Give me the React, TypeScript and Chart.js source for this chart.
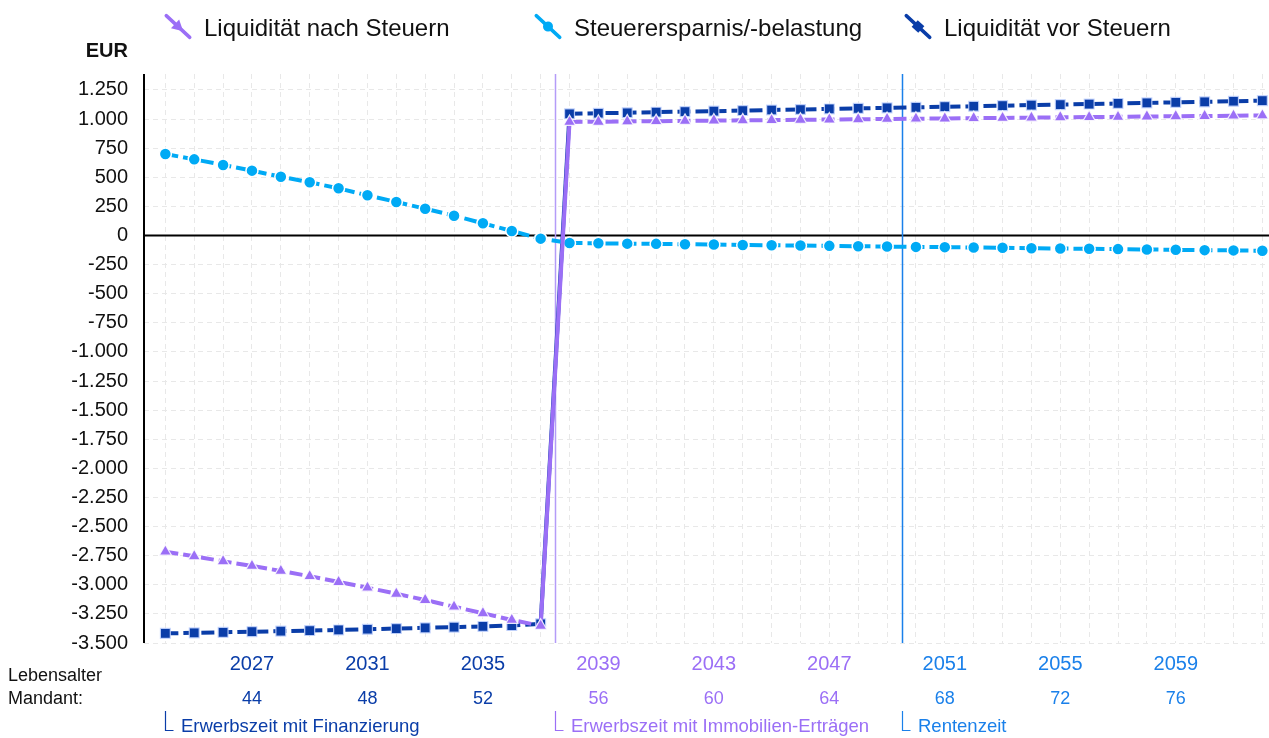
import { useEffect, useRef } from 'react';
import { Chart, registerables } from 'chart.js';

Chart.register(...registerables);

// ---------- data ----------
const years = [
  2024, 2025, 2026, 2027, 2028, 2029, 2030, 2031, 2032, 2033, 2034, 2035, 2036,
  2037, 2038, 2039, 2040, 2041, 2042, 2043, 2044, 2045, 2046, 2047, 2048, 2049,
  2050, 2051, 2052, 2053, 2054, 2055, 2056, 2057, 2058, 2059, 2060, 2061, 2062,
];

const liqNachSteuern = [
  -2716, -2755, -2798, -2838, -2881, -2926, -2976, -3025, -3077, -3131, -3188, -3245, -3302,
  -3352, 975, 977, 980, 982, 984, 987, 989, 991, 994, 996, 998, 1001,
  1003, 1005, 1008, 1010, 1012, 1015, 1017, 1019, 1022, 1024, 1026, 1029, 1031,
];

const steuerErsparnis = [
  700, 654, 606, 557, 505, 457, 405, 345, 288, 230, 170, 105, 39,
  -27, -64, -67, -70, -72, -75, -78, -81, -84, -86, -89, -92, -95,
  -98, -100, -103, -106, -109, -112, -114, -117, -120, -123, -126, -128, -131,
];

const liqVorSteuern = [
  -3417, -3413, -3408, -3403, -3398, -3393, -3388, -3382, -3376, -3370, -3364, -3358, -3350,
  -3335, 1045, 1050, 1054, 1059, 1064, 1068, 1073, 1078, 1082, 1087, 1092, 1096,
  1101, 1106, 1110, 1115, 1120, 1124, 1129, 1134, 1139, 1143, 1148, 1153, 1158,
];

const seriesNames = ['Liquidität nach Steuern', 'Steuerersparnis/-belastung', 'Liquidität vor Steuern'];

const yTickValues = [
  -3500, -3250, -3000, -2750, -2500, -2250, -2000, -1750, -1500, -1250, -1000, -750, -500,
  -250, 0, 250, 500, 750, 1000, 1250,
];

const xLabelYears = [2027, 2031, 2035, 2039, 2043, 2047, 2051, 2055, 2059];
const ageLabels = [44, 48, 52, 56, 60, 64, 68, 72, 76];

const phaseStarts = [2024, 2037.5, 2049.5];
const phaseNames = ['Erwerbszeit mit Finanzierung', 'Erwerbszeit mit Immobilien-Erträgen', 'Rentenzeit'];

// ---------- styles ----------
const C_DARK = '#0A3DA8';
const C_PURPLE = '#9B6FF6';
const C_LIGHT = '#00AAF5';
const C_BLUE = '#1A80EA';
const C_PURPLE_LINE = '#B49CF8';
const phaseColors = [C_DARK, C_PURPLE, C_BLUE];
const phaseLineColors = [C_DARK, C_PURPLE_LINE, C_BLUE];
const FONT = '"Liberation Sans", Arial, Helvetica, sans-serif';

const phaseIndexOf = (v: number) => {
  let idx = 0;
  for (let i = 0; i < phaseStarts.length; i++) if (v >= phaseStarts[i]) idx = i;
  return idx;
};

const fmt = (v: number) => {
  const s = Math.abs(v).toString().replace(/\B(?=(\d{3})+(?!\d))/g, '.');
  return (v < 0 ? '-' : '') + s;
};

const JUMP_INDEX = 13;

const overlayPlugin = {
  id: 'overlay',
  beforeDatasetsDraw(chart: any) {
    const { ctx, chartArea, scales } = chart;
    const x = scales.x;
    const y = scales.y;
    ctx.save();
    // zero line
    const y0 = y.getPixelForValue(0);
    ctx.strokeStyle = '#000';
    ctx.lineWidth = 2;
    ctx.beginPath();
    ctx.moveTo(chartArea.left, y0);
    ctx.lineTo(chartArea.right, y0);
    ctx.stroke();
    // phase separators
    for (let i = 1; i < phaseStarts.length; i++) {
      const px = Math.round(x.getPixelForValue(phaseStarts[i])) + 0.5;
      ctx.strokeStyle = phaseLineColors[i];
      ctx.lineWidth = 1.5;
      ctx.beginPath();
      ctx.moveTo(px, chartArea.top);
      ctx.lineTo(px, chartArea.bottom);
      ctx.stroke();
    }
    // y axis line
    ctx.strokeStyle = '#000';
    ctx.lineWidth = 2;
    ctx.beginPath();
    ctx.moveTo(chartArea.left, chartArea.top);
    ctx.lineTo(chartArea.left, chartArea.bottom);
    ctx.stroke();
    ctx.restore();
  },
  afterDraw(chart: any) {
    const { ctx, scales } = chart;
    const x = scales.x;
    ctx.save();

    // Legend
    const legendColors = [C_PURPLE, C_LIGHT, C_DARK];
    const legendStyles = ['triangle', 'circle', 'rect'];
    for (let i = 0; i < seriesNames.length; i++) {
      const lx = 165 + i * 370;
      const cx = lx + 13;
      const cy = 26.5;
      ctx.save();
      ctx.translate(cx, cy);
      ctx.rotate((Math.PI / 4) * 0.95);
      ctx.strokeStyle = legendColors[i];
      ctx.fillStyle = legendColors[i];
      ctx.lineWidth = 3.5;
      ctx.lineCap = 'round';
      ctx.beginPath();
      ctx.moveTo(-16, 0);
      ctx.lineTo(16, 0);
      ctx.stroke();
      ctx.beginPath();
      if (legendStyles[i] === 'circle') {
        ctx.arc(0, 0, 5, 0, Math.PI * 2);
      } else if (legendStyles[i] === 'rect') {
        ctx.rect(-4.5, -4.5, 9, 9);
      } else {
        ctx.moveTo(7, 0);
        ctx.lineTo(-4, -6);
        ctx.lineTo(-4, 6);
        ctx.closePath();
      }
      ctx.fill();
      ctx.restore();
      ctx.fillStyle = '#111';
      ctx.font = `24px ${FONT}`;
      ctx.textAlign = 'left';
      ctx.textBaseline = 'middle';
      ctx.fillText(seriesNames[i], lx + 39, 29);
    }

    // EUR unit
    ctx.fillStyle = '#111';
    ctx.font = `bold 20px ${FONT}`;
    ctx.textAlign = 'right';
    ctx.textBaseline = 'middle';
    ctx.fillText('EUR', 128, 51);

    // Lebensalter label
    ctx.font = `18px ${FONT}`;
    ctx.textAlign = 'left';
    ctx.fillText('Lebensalter', 8, 676);
    ctx.fillText('Mandant:', 8, 699);

    // ages
    ctx.textAlign = 'center';
    for (let i = 0; i < xLabelYears.length; i++) {
      const px = x.getPixelForValue(xLabelYears[i]);
      ctx.fillStyle = phaseColors[phaseIndexOf(xLabelYears[i])];
      ctx.fillText(String(ageLabels[i]), px, 699);
    }

    // phase labels
    ctx.font = `18.5px ${FONT}`;
    ctx.textAlign = 'left';
    for (let i = 0; i < phaseStarts.length; i++) {
      const px = Math.round(x.getPixelForValue(phaseStarts[i])) + 0.5;
      ctx.strokeStyle = phaseColors[i];
      ctx.fillStyle = phaseColors[i];
      ctx.lineWidth = 1.2;
      ctx.beginPath();
      ctx.moveTo(px, 711);
      ctx.lineTo(px, 730.5);
      ctx.lineTo(px + 8, 730.5);
      ctx.stroke();
      ctx.fillText(phaseNames[i], px + 15.5, 727);
    }
    ctx.restore();
  },
};

const makeSeries = (vals: number[]) => years.map((yr, i) => ({ x: yr, y: vals[i] }));

export default function App() {
  const canvasRef = useRef<HTMLCanvasElement | null>(null);

  useEffect(() => {
    if (!canvasRef.current) return;
    const dash = [13, 5];
    const seg = {
      borderDash: (ctx: any) => (ctx.p0DataIndex === JUMP_INDEX ? [] : dash),
    };
    const chart = new Chart(canvasRef.current, {
      type: 'line',
      data: {
        datasets: [
          {
            label: seriesNames[0],
            data: makeSeries(liqNachSteuern),
            borderColor: C_PURPLE,
            backgroundColor: C_PURPLE,
            borderWidth: 4,
            borderDash: dash,
            segment: seg,
            pointStyle: 'triangle',
            pointRadius: 7,
            pointBackgroundColor: C_PURPLE,
            pointBorderColor: 'rgba(255,255,255,0.85)',
            pointBorderWidth: 1.2,
            tension: 0,
          },
          {
            label: seriesNames[1],
            data: makeSeries(steuerErsparnis),
            borderColor: C_LIGHT,
            backgroundColor: C_LIGHT,
            borderWidth: 4,
            borderDash: dash,
            pointStyle: 'circle',
            pointRadius: 6,
            pointBackgroundColor: C_LIGHT,
            pointBorderColor: '#fff',
            pointBorderWidth: 1.5,
            tension: 0,
          },
          {
            label: seriesNames[2],
            data: makeSeries(liqVorSteuern),
            borderColor: C_DARK,
            backgroundColor: C_DARK,
            borderWidth: 4,
            borderDash: dash,
            segment: seg,
            pointStyle: 'rect',
            pointRadius: 7,
            pointBackgroundColor: C_DARK,
            pointBorderColor: 'rgba(200,215,255,0.85)',
            pointBorderWidth: 1.2,
            tension: 0,
          },
        ],
      },
      options: {
        responsive: false,
        animation: false,
        devicePixelRatio: 1,
        layout: { autoPadding: false, padding: { top: 74, left: 0, right: 0, bottom: 0 } },
        plugins: {
          legend: { display: false },
          tooltip: { enabled: false },
          title: { display: false },
        },
        scales: {
          x: {
            type: 'linear',
            min: 2023.26,
            max: 2062.23,
            afterBuildTicks: (axis: any) => {
              axis.ticks = years.map((v) => ({ value: v }));
            },
            afterFit: (scale: any) => {
              scale.height = 95;
              scale.paddingLeft = 0;
              scale.paddingRight = 0;
            },
            grid: { color: '#e8e8e8', lineWidth: 1, drawTicks: false },
            border: { display: false, dash: [5, 4] },
            ticks: {
              autoSkip: false,
              maxRotation: 0,
              padding: 9,
              font: { family: FONT, size: 20 },
              color: (ctx: any) => phaseColors[phaseIndexOf(ctx.tick ? ctx.tick.value : 2024)],
              callback: (v: any) => (xLabelYears.includes(Number(v)) ? String(v) : ''),
            },
          },
          y: {
            type: 'linear',
            min: -3500,
            max: 1387,
            afterBuildTicks: (axis: any) => {
              axis.ticks = yTickValues.map((v) => ({ value: v }));
            },
            afterFit: (scale: any) => {
              scale.width = 144;
            },
            grid: { color: '#e8e8e8', lineWidth: 1, drawTicks: false },
            border: { display: false, dash: [5, 4] },
            ticks: {
              padding: 16,
              font: { family: FONT, size: 20 },
              color: '#111',
              callback: (v: any) => fmt(Number(v)),
            },
          },
        },
      },
      plugins: [overlayPlugin],
    } as any);
    return () => chart.destroy();
  }, []);

  return (
    <canvas
      ref={canvasRef}
      width={1269}
      height={738}
      style={{ position: 'fixed', left: 0, top: 0, width: 1269, height: 738 }}
    />
  );
}
